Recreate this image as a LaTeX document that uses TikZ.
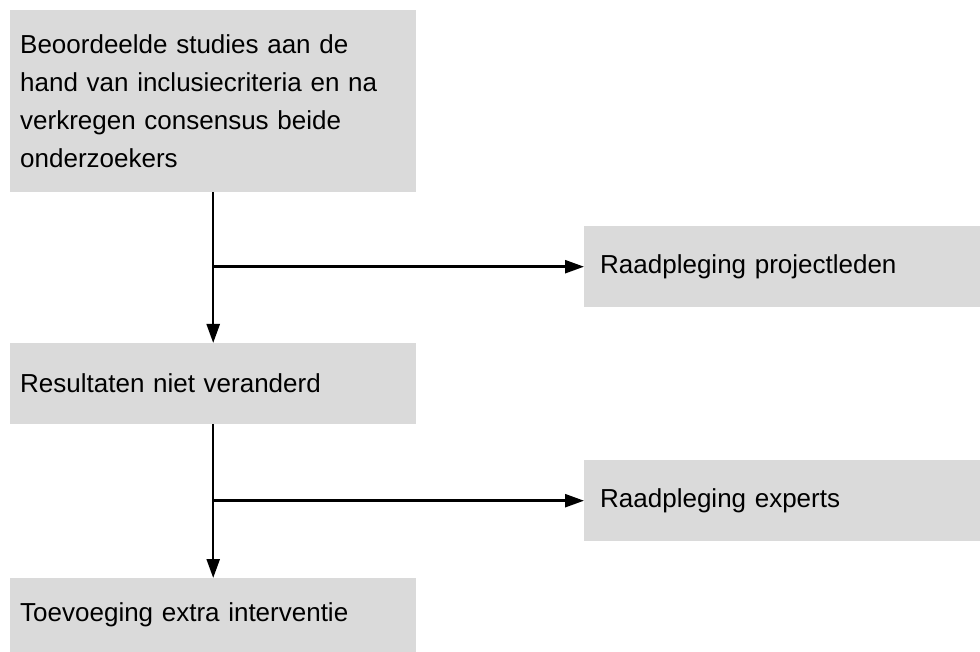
\documentclass[tikz,border=0pt]{standalone}
\usepackage{fontspec}
\setmainfont{Liberation Sans}
\usetikzlibrary{arrows.meta}

\definecolor{boxgray}{RGB}{218,218,218}

\tikzset{
	box/.style={fill=boxgray, anchor=north west, align=left, inner xsep=10pt, inner ysep=0pt,
		text width=386pt, font=\fontsize{26}{38}\selectfont},
	sidebox/.style={box, inner xsep=16pt, text width=364pt},
	flow/.style={line width=2.5pt, -{Triangle[length=19pt,width=13pt]}}
}

\begin{document}
\begin{tikzpicture}[x=1pt, y=-1pt]
	\useasboundingbox (0,0) rectangle (980,652);

	\node
		[box, minimum height=182pt] (studies) at (10,10)
		{Beoordeelde studies aan de\\hand van inclusiecriteria en na\\verkregen consensus beide\\onderzoekers};

	\node
		[box, minimum height=81pt] (resultaten) at (10,343)
		{Resultaten niet veranderd};

	\node
		[box, minimum height=74pt] (toevoeging) at (10,578)
		{Toevoeging extra interventie};

	\node
		[sidebox, minimum height=81pt] (projectleden) at (584,226)
		{Raadpleging projectleden};

	\node
		[sidebox, minimum height=81pt] (experts) at (584,460)
		{Raadpleging experts};

	\coordinate (split1) at (studies.south |- projectleden.west);
	\coordinate (split2) at (resultaten.south |- experts.west);

	\draw
		[flow] (studies.south) -- (resultaten.north);
	\draw
		[flow] (split1) -- (projectleden.west);

	\draw
		[flow] (resultaten.south) -- (toevoeging.north);
	\draw
		[flow] (split2) -- (experts.west);
\end{tikzpicture}
\end{document}
